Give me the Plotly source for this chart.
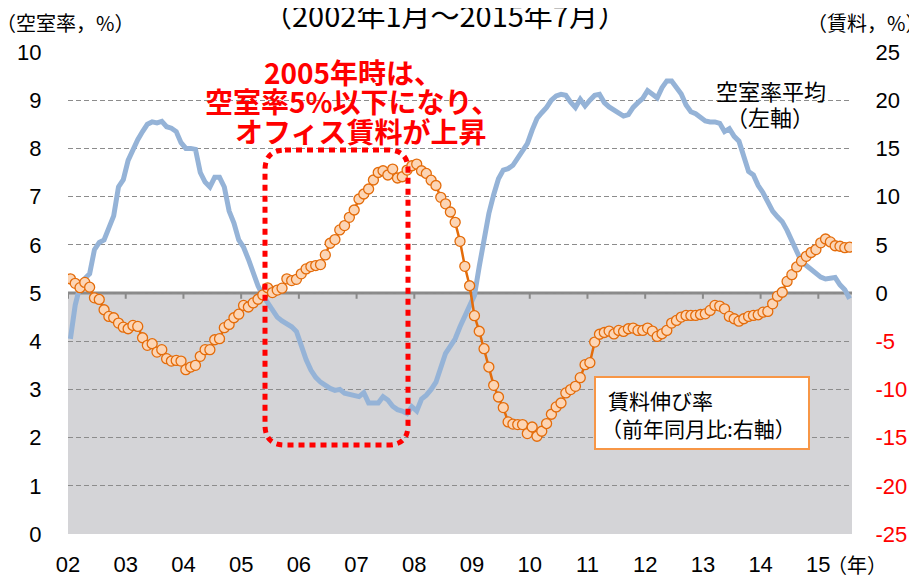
import plotly.graph_objects as go

# ---------------- data ----------------
year_labels = ["02", "03", "04", "05", "06", "07", "08", "09", "10", "11", "12", "13", "14", "15"]

vacancy = [4.05, 4.75, 5.15, 5.3, 5.4, 5.9, 6.05, 6.1, 6.35, 6.6,
           7.2, 7.35, 7.75, 8.0, 8.18, 8.35, 8.5, 8.55, 8.53, 8.56,
           8.45, 8.42, 8.35, 8.12, 8.0, 8.0, 7.98, 7.5, 7.3, 7.2,
           7.4, 7.4, 7.2, 6.7, 6.45, 6.1, 5.95, 5.7, 5.4, 5.15,
           4.95, 4.8, 4.65, 4.5, 4.42, 4.37, 4.3, 4.2, 3.9, 3.62,
           3.4, 3.25, 3.15, 3.08, 3.02, 2.98, 3.0, 2.92, 2.9, 2.88,
           2.85, 2.93, 2.72, 2.72, 2.72, 2.85, 2.78, 2.65, 2.58, 2.55,
           2.5, 2.64, 2.55, 2.8, 2.88, 3.0, 3.15, 3.45, 3.75, 3.9,
           4.05, 4.3, 4.5, 4.7, 4.95, 5.55, 6.15, 6.65, 7.04, 7.37,
           7.55, 7.58, 7.65, 7.81, 7.95, 8.1, 8.38, 8.62, 8.74, 8.85,
           9.0, 9.09, 9.12, 9.1, 8.96, 8.85, 9.02, 8.88, 9.0, 9.1,
           9.12, 8.95, 8.86, 8.8, 8.74, 8.67, 8.7, 8.85, 8.95, 9.04,
           9.2, 9.13, 9.05, 9.26, 9.4, 9.4, 9.28, 9.13, 8.9, 8.76,
           8.72, 8.63, 8.57, 8.55, 8.55, 8.52, 8.35, 8.41, 8.25, 8.15,
           7.81, 7.52, 7.45, 7.23, 7.08, 6.9, 6.7, 6.58, 6.48, 6.3,
           6.1, 5.85, 5.65, 5.57, 5.49, 5.4, 5.33, 5.29, 5.3, 5.32,
           5.17, 5.07, 4.88]

rent_growth = [1.47, 1.0, 0.55, 1.1, 0.6, -0.5, -0.67, -1.74, -2.43, -2.57,
               -3.12, -3.54, -3.71, -3.36, -3.47, -4.64, -5.43, -5.26, -6.13, -5.88,
               -6.81, -7.06, -6.99, -7.06, -7.95, -7.68, -7.5, -6.57, -5.88, -5.88,
               -4.85, -4.74, -3.6, -3.26, -2.57, -2.2, -1.29, -1.45, -1.03, -0.65,
               -0.2, 0.54, 0.04, 0.3, 0.5, 1.47, 1.29, 1.42, 1.99, 2.5,
               2.74, 2.85, 2.95, 3.95, 5.16, 5.54, 6.54, 6.99, 7.85, 8.61,
               9.75, 10.27, 10.79, 11.72, 12.5, 12.68, 12.24, 12.86, 11.93, 12.06,
               12.75, 13.2, 13.37, 12.68, 12.4, 11.7, 11.15, 9.92, 9.25, 8.4,
               7.33, 5.36, 2.77, 0.75, -2.35, -3.97, -5.78, -7.68, -9.58, -10.79,
               -11.89, -13.37, -13.6, -13.65, -13.65, -14.58, -13.9, -14.86, -14.34, -13.54,
               -12.58, -11.82, -11.41, -10.37, -10.02, -9.68, -8.78, -7.43, -7.23, -5.09,
               -4.28, -4.1, -3.95, -4.25, -3.88, -3.99, -3.71, -3.64, -3.88, -3.88,
               -3.64, -3.95, -4.5, -4.23, -3.88, -3.12, -2.85, -2.5, -2.33, -2.33,
               -2.33, -2.23, -2.16, -1.81, -1.29, -1.36, -1.64, -2.43, -2.67, -2.92,
               -2.67, -2.43, -2.33, -2.26, -1.99, -1.91, -1.12, -0.33, 0.08, 1.2,
               1.9, 2.7, 3.3, 3.8, 4.2, 4.5, 5.2, 5.6, 5.3, 4.9,
               4.85, 4.7, 4.75]

left_ticks = [0, 1, 2, 3, 4, 5, 6, 7, 8, 9, 10]
right_ticks = [-25, -20, -15, -10, -5, 0, 5, 10, 15, 20, 25]

months = list(range(len(vacancy)))
year_bounds = [12 * k - 0.5 for k in range(len(year_labels))]

# ---------------- layout helpers ----------------
# The page body has an 8px margin, so the figure is sized to fill the 917x575 window.
OFF = 8
W, H = 917 - OFF, 575 - OFF
PL, PR, PT, PB = 68, 852, 52, 534          # plot area in page pixels
L, R, T, B = PL - OFF, W - (PR - OFF), PT - OFF, H - (PB - OFF)
PW, PH = PR - PL, PB - PT


def px(x):
    return (x - PL) / PW


def py(y):
    return (PB - y) / PH


JP = "Noto Sans CJK JP"
NUM = "Liberation Sans, Arial"

fig = go.Figure()

fig.add_trace(go.Scatter(
    x=months, y=vacancy, mode="lines", name="空室率平均",
    line=dict(color="#95B3D7", width=5), yaxis="y"))

fig.add_trace(go.Scatter(
    x=months, y=rent_growth, mode="lines+markers", name="賃料伸び率",
    line=dict(color="#E46C0A", width=2.5),
    marker=dict(size=10, color="#FCD5B5", line=dict(color="#E46C0A", width=1.3)),
    yaxis="y2"))

right_text = [("<span style='color:#FF0000'>%d</span>" % v) if v < 0 else str(v) for v in right_ticks]

fig.update_layout(
    width=W, height=H,
    margin=dict(l=L, r=R, t=T, b=B, autoexpand=False),
    paper_bgcolor="white", plot_bgcolor="white",
    showlegend=False,
    xaxis=dict(range=[-0.5, len(vacancy) - 0.5], tickvals=year_bounds, ticktext=year_labels,
               showgrid=False, zeroline=False, showline=False, automargin=False,
               ticks="outside", ticklen=11, tickcolor="rgba(0,0,0,0)",
               tickfont=dict(family=NUM, size=22, color="black")),
    yaxis=dict(range=[0, 10], tickvals=left_ticks, showgrid=True,
               gridcolor="#8C8C8C", gridwidth=1.2, griddash="5px,3px",
               zeroline=False, showline=False, automargin=False,
               ticks="outside", ticklen=21, tickcolor="rgba(0,0,0,0)",
               tickfont=dict(family=NUM, size=22, color="black")),
    yaxis2=dict(range=[-25, 25], tickvals=right_ticks, ticktext=right_text,
                overlaying="y", side="right", showgrid=False, zeroline=False, showline=False,
                automargin=False,
                ticks="outside", ticklen=18, tickcolor="rgba(0,0,0,0)",
                tickfont=dict(family=NUM, size=22, color="black")),
)

shapes = []
# gray shaded lower half
shapes.append(dict(type="rect", xref="paper", yref="y", x0=0, x1=1, y0=0, y1=5,
                   fillcolor="#D4D4D7", line=dict(width=0), layer="below"))
# axis line at 5 / 0
shapes.append(dict(type="line", xref="paper", yref="y", x0=0, x1=1, y0=5, y1=5,
                   line=dict(color="#8A8A8A", width=3), layer="between"))
for xb in year_bounds:
    shapes.append(dict(type="line", xref="x", yref="y", x0=xb, x1=xb, y0=5, y1=4.88,
                       line=dict(color="#8A8A8A", width=2), layer="between"))

# dotted rounded rectangle
x0, x1, y0, y1 = px(265), px(408), py(150), py(445)
r = 20
rx, ry = r / PW, r / PH
path = (f"M {x0+rx},{y0} L {x1-rx},{y0} Q {x1},{y0} {x1},{y0-ry} "
        f"L {x1},{y1+ry} Q {x1},{y1} {x1-rx},{y1} "
        f"L {x0+rx},{y1} Q {x0},{y1} {x0},{y1+ry} "
        f"L {x0},{y0-ry} Q {x0},{y0} {x0+rx},{y0} Z")
shapes.append(dict(type="path", xref="paper", yref="paper", path=path,
                   line=dict(color="#FF0000", width=5, dash="6px,5px"), layer="above"))

# legend box for rent
shapes.append(dict(type="rect", xref="paper", yref="paper",
                   x0=px(595), x1=px(809), y0=py(377), y1=py(449),
                   fillcolor="white", line=dict(color="#F79646", width=2), layer="above"))

fig.update_layout(shapes=shapes)

ann = []


def add_text(text, x, y, size, color="black", family=JP, bold=False, xanchor="center"):
    t = f"<b>{text}</b>" if bold else text
    ann.append(dict(text=t, x=px(x), y=py(y), xref="paper", yref="paper",
                    xanchor=xanchor, yanchor="middle", showarrow=False,
                    font=dict(family=family, size=size, color=color)))


add_text("（2002年1月～2015年7月）", 445, 14, 29)
add_text("（空室率，%）", 65, 23, 20)
add_text("（賃料，%）", 866, 23, 20)
add_text("2005年時は、", 353, 72, 28, color="#FF0000", bold=True)
add_text("空室率5%以下になり、", 352, 101, 28, color="#FF0000", bold=True)
add_text("オフィス賃料が上昇", 360, 131, 28, color="#FF0000", bold=True)
add_text("空室率平均", 771, 90, 22)
add_text("（左軸）", 770, 116, 22)
add_text("賃料伸び率", 660, 400, 21)
add_text("（前年同月比:右軸）", 698, 428, 21)
add_text("（年）", 857, 564, 20)

fig.update_layout(annotations=ann)

fig.write_html("out.html")
